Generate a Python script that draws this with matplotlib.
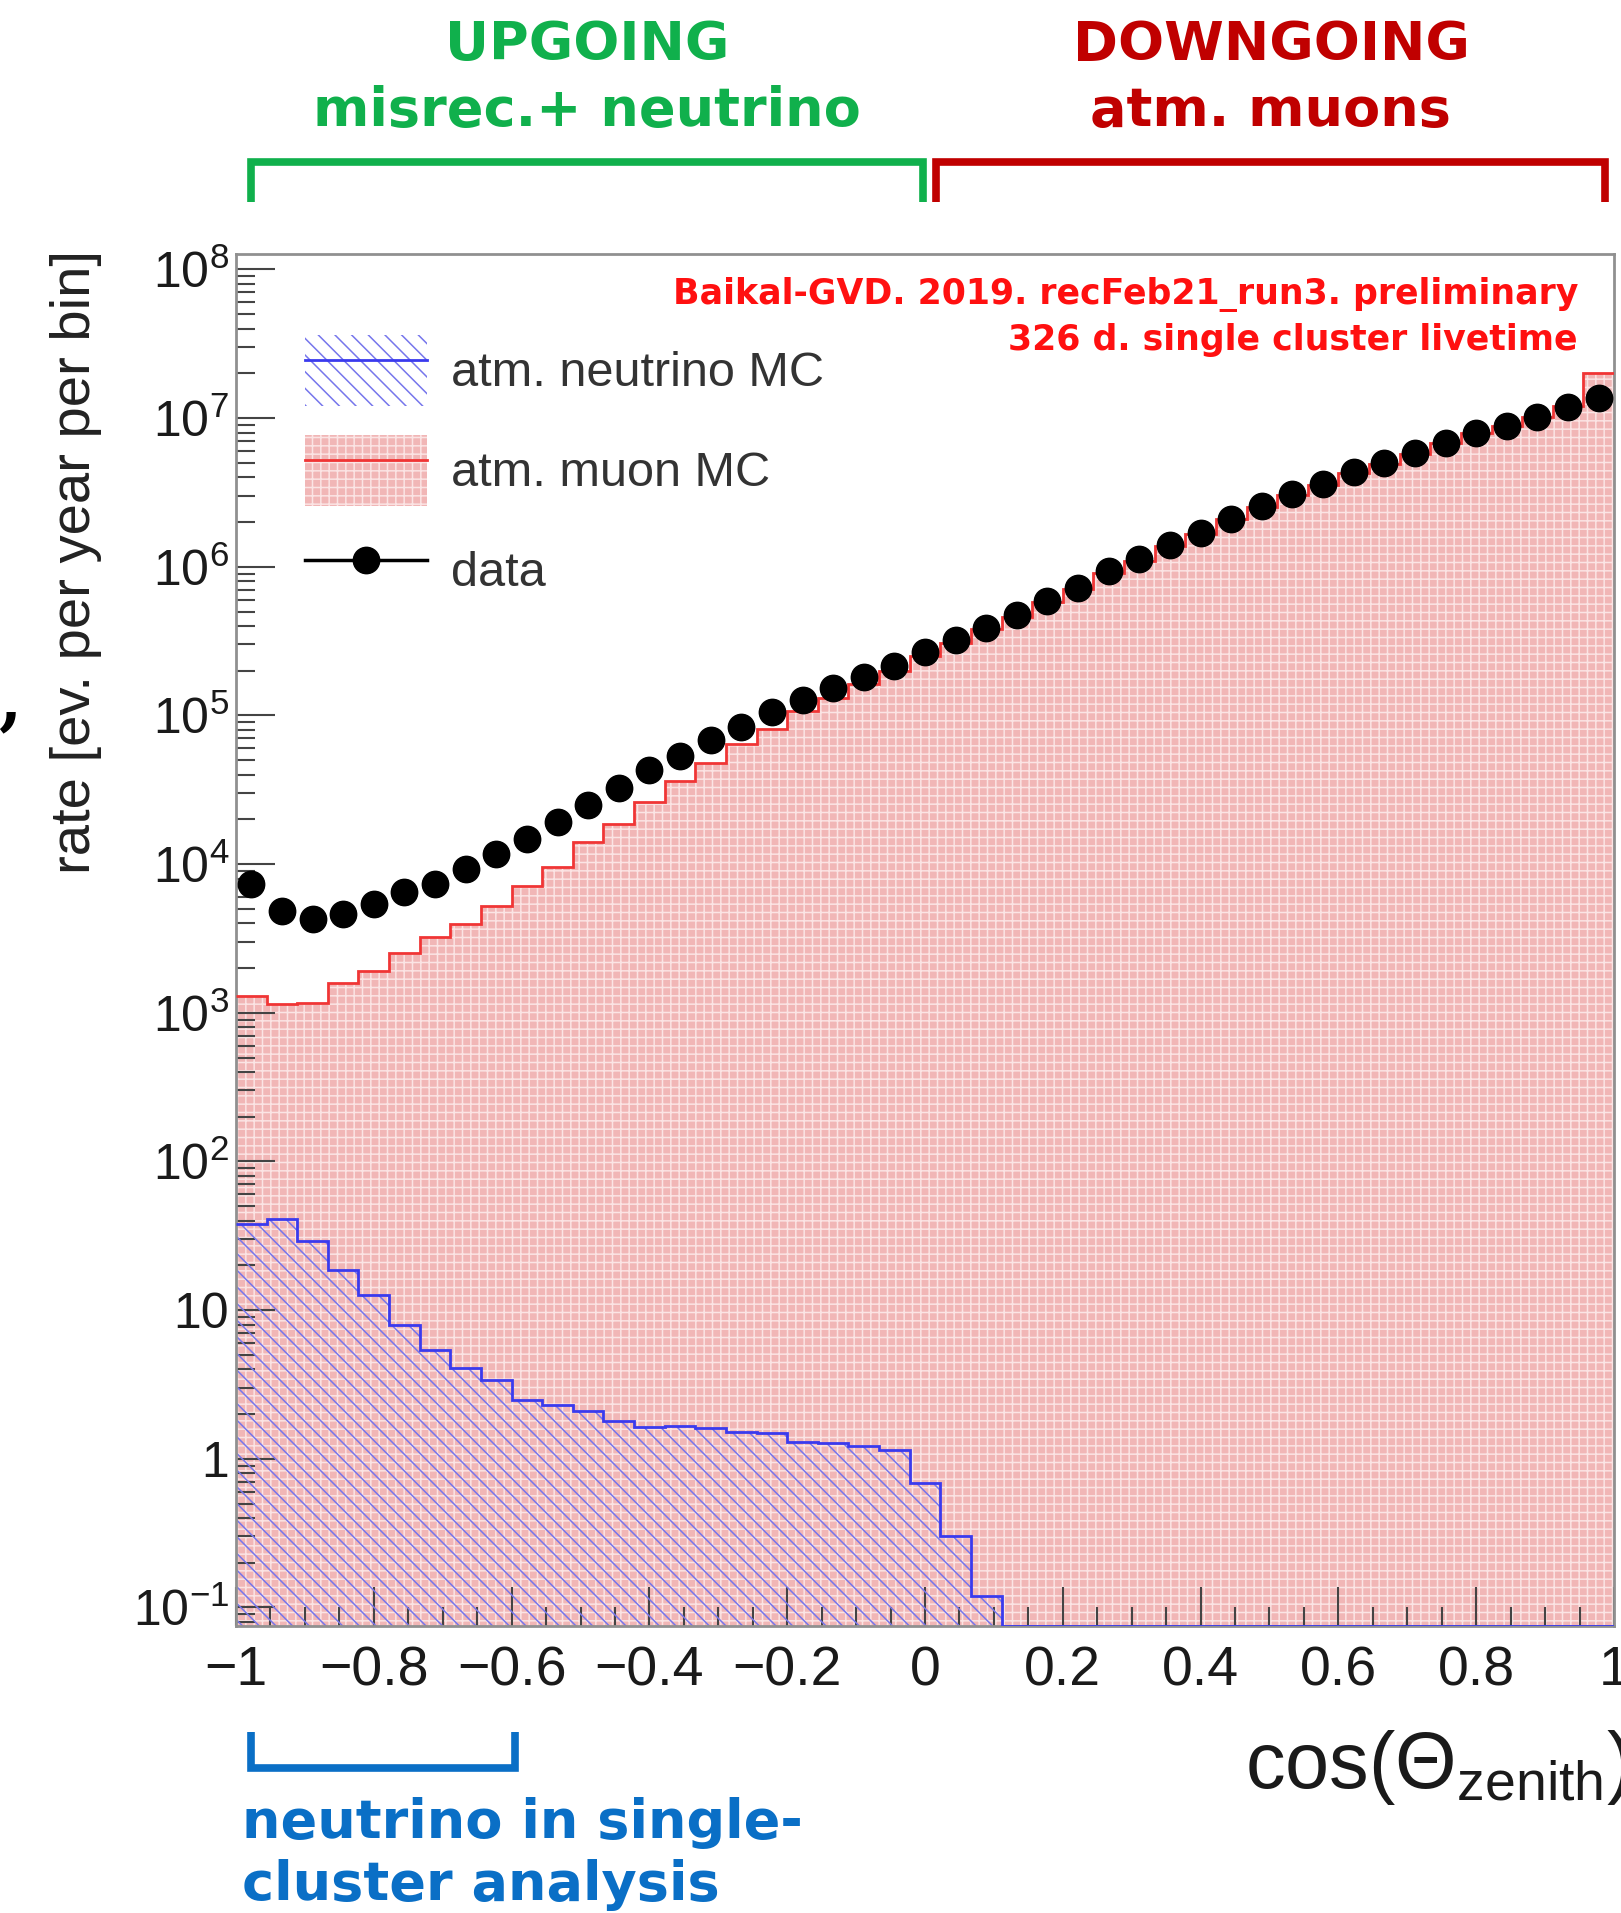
import numpy as np
import matplotlib
matplotlib.use('Agg')
import matplotlib.pyplot as plt
from matplotlib.patches import Patch
from matplotlib.lines import Line2D
from matplotlib.ticker import LogLocator, FuncFormatter, MultipleLocator

plt.rcParams['font.family'] = ['Liberation Sans', 'DejaVu Sans']
plt.rcParams['mathtext.fontset'] = 'custom'
plt.rcParams['mathtext.rm'] = 'Liberation Sans'
plt.rcParams['mathtext.it'] = 'Liberation Sans:italic'
plt.rcParams['mathtext.bf'] = 'Liberation Sans:bold'
plt.rcParams['hatch.linewidth'] = 1.1

# 45 bins in cos(zenith), -1 .. 1
cos_edges = np.linspace(-1.0, 1.0, 46)

# data, events per year per bin
data_rate = [7400, 4800, 4300, 4600, 5400, 6500, 7400, 9300, 1.17e4, 1.48e4,
             1.93e4, 2.51e4, 3.24e4, 4.27e4, 5.32e4, 6.81e4, 8.38e4, 1.05e5, 1.27e5, 1.53e5,
             1.82e5, 2.16e5, 2.69e5, 3.24e5, 3.89e5, 4.73e5, 5.89e5, 7.24e5, 9.33e5, 1.12e6,
             1.40e6, 1.70e6, 2.11e6, 2.57e6, 3.09e6, 3.63e6, 4.34e6, 5.01e6, 5.81e6, 6.85e6,
             7.91e6, 8.91e6, 1.01e7, 1.19e7, 1.36e7]

# atm. muon MC
muon_mc = [1290, 1150, 1170, 1580, 1910, 2510, 3240, 3980, 5250, 7080,
           9550, 1.41e4, 1.86e4, 2.63e4, 3.63e4, 4.79e4, 6.46e4, 8.13e4, 1.07e5, 1.32e5,
           1.62e5, 2.00e5, 2.51e5, 3.09e5, 3.80e5, 4.57e5, 5.75e5, 7.08e5, 9.12e5, 1.10e6,
           1.38e6, 1.66e6, 2.09e6, 2.51e6, 3.02e6, 3.55e6, 4.27e6, 4.90e6, 5.75e6, 6.76e6,
           7.94e6, 8.91e6, 1.02e7, 1.20e7, 2.00e7]

# atm. neutrino MC
nu_mc = [38, 41, 29, 18.6, 12.6, 7.9, 5.4, 4.1, 3.4, 2.5,
         2.3, 2.1, 1.8, 1.64, 1.66, 1.62, 1.52, 1.49, 1.29, 1.27,
         1.21, 1.15, 0.69, 0.30, 0.12, 0, 0, 0, 0, 0,
         0, 0, 0, 0, 0, 0, 0, 0, 0, 0,
         0, 0, 0, 0, 0]

W, H = 1621, 1913
YMIN, YMAX = 0.075, 1.27e8

MU_FACE = '#f1b6b6'
MU_HATCH = '#fbe4e4'
MU_LINE = '#f03535'
NU_HATCH = '#7676ec'
NU_LINE = '#3a3aee'
GREEN = '#10b04c'
DARKRED = '#c00000'
BLUE = '#0a6fc6'


def fpos(x, y):
    return x / W, 1 - y / H


fig = plt.figure(figsize=(W / 100, H / 100), dpi=100)
ax = fig.add_axes([236 / W, 1 - 1626 / H, (1614 - 236) / W, (1626 - 254) / H])

centers = 0.5 * (cos_edges[:-1] + cos_edges[1:])
nu_arr = np.array(nu_mc, dtype=float)
nu_draw = np.where(nu_arr > 0, nu_arr, YMIN)

# muon MC
ax.stairs(muon_mc, cos_edges, baseline=1e-3, fill=True, facecolor=MU_FACE,
          edgecolor=MU_HATCH, hatch='++', linewidth=0, zorder=1)
ax.stairs(muon_mc, cos_edges, baseline=None, color=MU_LINE, lw=2, zorder=3)
# neutrino MC
ax.stairs(nu_draw, cos_edges, baseline=1e-3, fill=True, facecolor='none',
          edgecolor=NU_HATCH, hatch='\\\\', linewidth=0, zorder=2)
ax.stairs(nu_draw, cos_edges, baseline=None, color=NU_LINE, lw=2, zorder=3)
# data
ax.plot(centers, data_rate, 'o', color='black', ms=19, zorder=4)

ax.set_xlim(-1, 1)
ax.set_yscale('log')
ax.set_ylim(YMIN, YMAX)

ax.xaxis.set_major_locator(MultipleLocator(0.2))
ax.xaxis.set_minor_locator(MultipleLocator(0.05))
ax.yaxis.set_major_locator(LogLocator(base=10, numticks=20))
ax.yaxis.set_minor_locator(LogLocator(base=10, subs=np.arange(2, 10), numticks=200))


def xfmt(v, pos):
    v = round(v, 2)
    if abs(v) < 1e-9:
        return '0'
    return f'{v:g}'.replace('-', '\u2212')


def yfmt(v, pos):
    e = int(round(np.log10(v)))
    if e == 0:
        return '1'
    if e == 1:
        return '10'
    return r'$10^{%d}$' % e


ax.xaxis.set_major_formatter(FuncFormatter(xfmt))
ax.yaxis.set_major_formatter(FuncFormatter(yfmt))
ax.yaxis.set_minor_formatter(FuncFormatter(lambda v, p: ''))

ax.tick_params(which='both', direction='in', color='#444444', width=1.5)
ax.tick_params(which='major', length=28)
ax.tick_params(which='minor', length=14)
ax.tick_params(axis='x', which='major', labelsize=40, pad=14, labelcolor='#1a1a1a')
ax.tick_params(axis='y', which='major', labelsize=36, pad=5, labelcolor='#1a1a1a')

for s in ax.spines.values():
    s.set_color('#909090')
    s.set_linewidth(2)

# legend
h_nu = (Patch(facecolor='white', edgecolor=NU_HATCH, hatch='\\\\', lw=0),
        Line2D([], [], color=NU_LINE, lw=2))
h_mu = (Patch(facecolor=MU_FACE, edgecolor=MU_HATCH, hatch='++', lw=0),
        Line2D([], [], color=MU_LINE, lw=2))
h_data = Line2D([], [], color='black', marker='o', ms=19, lw=2.5)
ax.legend([h_nu, h_mu, h_data], ['atm. neutrino MC', 'atm. muon MC', 'data'],
          loc='upper left', bbox_to_anchor=fpos(305, 335), bbox_transform=fig.transFigure,
          frameon=False, fontsize=35, handlelength=2.5, handleheight=1.86,
          handletextpad=0.5, labelspacing=0.6, borderpad=0, borderaxespad=0,
          labelcolor='#333333')

# red experiment label
fig.text(*fpos(1578, 304), 'Baikal-GVD. 2019. recFeb21_run3. preliminary',
         ha='right', va='baseline', color='#ff1010', fontsize=25,
         family='DejaVu Sans', weight='bold')
fig.text(*fpos(1578, 350), '326 d. single cluster livetime',
         ha='right', va='baseline', color='#ff1010', fontsize=25,
         family='DejaVu Sans', weight='bold')

# axis titles
fig.text(*fpos(76, 250), 'rate [ev. per year per bin]', rotation=90,
         ha='center', va='top', fontsize=40.5, color='#222222')
fig.text(*fpos(1630, 1788), r'cos($\Theta_{\mathrm{zenith}}$)',
         ha='right', va='baseline', fontsize=57, color='#1a1a1a')

# top annotations
fig.text(*fpos(587, 60), 'UPGOING', ha='center', va='baseline', color=GREEN,
         fontsize=39, family='DejaVu Sans', weight='bold')
fig.text(*fpos(587, 126), 'misrec.+ neutrino', ha='center', va='baseline', color=GREEN,
         fontsize=39, family='DejaVu Sans', weight='bold')
fig.text(*fpos(1271, 60), 'DOWNGOING', ha='center', va='baseline', color=DARKRED,
         fontsize=39, family='DejaVu Sans', weight='bold')
fig.text(*fpos(1271, 126), 'atm. muons', ha='center', va='baseline', color=DARKRED,
         fontsize=39, family='DejaVu Sans', weight='bold')


def bracket(x1, x2, y_end, y_bar, color):
    xs = [x1, x1, x2, x2]
    ys = [y_end, y_bar, y_bar, y_end]
    fx = [x / W for x in xs]
    fy = [1 - y / H for y in ys]
    fig.add_artist(Line2D(fx, fy, transform=fig.transFigure, color=color, lw=5.5,
                          solid_joinstyle='miter', solid_capstyle='butt'))


bracket(251, 923, 202, 162, GREEN)
bracket(936, 1605, 202, 162, DARKRED)
bracket(251, 515, 1732, 1768, BLUE)

fig.text(*fpos(242, 1838), 'neutrino in single-', ha='left', va='baseline', color=BLUE,
         fontsize=39, family='DejaVu Sans', weight='bold')
fig.text(*fpos(242, 1900), 'cluster analysis', ha='left', va='baseline', color=BLUE,
         fontsize=39, family='DejaVu Sans', weight='bold')

# stray mark at left edge of the slide crop
fig.text(*fpos(10, 722), ',', ha='center', va='baseline', fontsize=48,
         family='DejaVu Serif', weight='bold', color='black')

fig.savefig('out.png', dpi=100, facecolor='white')
